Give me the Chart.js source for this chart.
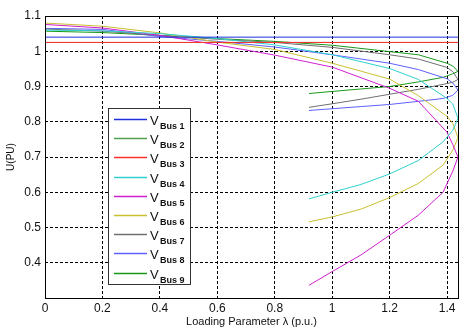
<!DOCTYPE html>
<html>
<head>
<meta charset="utf-8">
<script src="https://cdn.jsdelivr.net/npm/chart.js@4.4.0/dist/chart.umd.min.js"></script>
<style>
  html, body { margin: 0; padding: 0; background: #fff; }
  #wrap { width: 474px; height: 336px; }
</style>
</head>
<body>
<div id="wrap"><canvas id="pvChart"></canvas></div>
<script>
// ── Data ───────────────────────────────────────────────────
const busNames  = ['Bus 1', 'Bus 2', 'Bus 3', 'Bus 4', 'Bus 5', 'Bus 6', 'Bus 7', 'Bus 8', 'Bus 9'];
const busColors = ['#1f2fe0', '#4fa04f', '#ff3030', '#30d0d0', '#d020d0', '#c8c030', '#707070', '#6060ff', '#189818'];

// generator buses hold their voltage over the whole range
const lambdaFlat = [0, 1.438];
const genVolts = [1.04, 1.025, 1.025];

// load buses: upper branch up to the nose, then lower branch back
const lambdaUpper = [0, 0.2, 0.4, 0.6, 0.8, 1.0, 1.2, 1.3, 1.4, 1.42, 1.438];
const lambdaLower = [1.42, 1.386, 1.3, 1.2, 1.1, 1.0, 0.919];

const bus4Upper = [1.060, 1.058, 1.050, 1.036, 1.018, 0.990, 0.951, 0.920, 0.866, 0.850, 0.810];
const bus5Upper = [1.076, 1.066, 1.045, 1.018, 0.989, 0.955, 0.895, 0.858, 0.770, 0.735, 0.700];
const bus6Upper = [1.080, 1.071, 1.052, 1.026, 1.005, 0.966, 0.921, 0.874, 0.815, 0.795, 0.755];
const bus7Upper = [1.063, 1.057, 1.045, 1.034, 1.025, 1.011, 0.990, 0.978, 0.954, 0.942, 0.920];
const bus8Upper = [1.065, 1.062, 1.042, 1.028, 1.012, 0.990, 0.966, 0.948, 0.922, 0.910, 0.890];
const bus9Upper = [1.057, 1.053, 1.045, 1.036, 1.028, 1.017, 0.999, 0.990, 0.966, 0.958, 0.943];

const bus4Lower = [0.776, 0.743, 0.690, 0.652, 0.622, 0.600, 0.581];
const bus5Lower = [0.660, 0.600, 0.535, 0.478, 0.422, 0.375, 0.336];
const bus6Lower = [0.720, 0.677, 0.625, 0.585, 0.552, 0.530, 0.516];
const bus7Lower = [0.912, 0.906, 0.892, 0.878, 0.864, 0.851, 0.841];
const bus8Lower = [0.875, 0.866, 0.858, 0.849, 0.843, 0.837, 0.832];
const bus9Lower = [0.936, 0.926, 0.913, 0.900, 0.893, 0.886, 0.880];

const xTicks = [0, 0.2, 0.4, 0.6, 0.8, 1.0, 1.2, 1.4];
const yTicks = [0.4, 0.5, 0.6, 0.7, 0.8, 0.9, 1.0, 1.1];

// ── Build series ───────────────────────────────────────────
function pairs(xs, ys) {
  return xs.map((x, i) => ({ x, y: ys[i] }));
}

function noseCurve(upper, lower) {
  return pairs(lambdaUpper, upper).concat(pairs(lambdaLower, lower));
}

const seriesData = [
  pairs(lambdaFlat, [genVolts[0], genVolts[0]]),
  pairs(lambdaFlat, [genVolts[1], genVolts[1]]),
  pairs(lambdaFlat, [genVolts[2], genVolts[2]]),
  noseCurve(bus4Upper, bus4Lower),
  noseCurve(bus5Upper, bus5Lower),
  noseCurve(bus6Upper, bus6Lower),
  noseCurve(bus7Upper, bus7Lower),
  noseCurve(bus8Upper, bus8Lower),
  noseCurve(bus9Upper, bus9Lower),
];

const FONT = 'Arial, "Liberation Sans", sans-serif';

// frame round the plot area + the boxed legend with subscripts
const framePlugin = {
  id: 'frameAndLegend',
  afterDraw(chart) {
    const { ctx, chartArea: a } = chart;
    ctx.save();
    ctx.setLineDash([]);
    ctx.strokeStyle = '#000';
    ctx.lineWidth = 1;
    ctx.strokeRect(Math.round(a.left) + 0.5, Math.round(a.top) + 0.5,
                   Math.round(a.right - a.left), Math.round(a.bottom - a.top));

    // legend box
    const bx = a.left + 63, by = a.top + 92, bw = 82, bh = 176;
    ctx.fillStyle = '#fff';
    ctx.fillRect(bx, by, bw, bh);
    ctx.strokeStyle = '#333';
    ctx.strokeRect(bx + 0.5, by + 0.5, bw, bh);

    busNames.forEach((name, i) => {
      const y = Math.round(by + 11 + i * 19.2) + 0.5;
      ctx.strokeStyle = busColors[i];
      ctx.lineWidth = 1.5;
      ctx.beginPath();
      ctx.moveTo(bx + 6, y);
      ctx.lineTo(bx + 39, y);
      ctx.stroke();

      ctx.fillStyle = '#111';
      ctx.textBaseline = 'alphabetic';
      ctx.textAlign = 'left';
      ctx.font = '13px ' + FONT;
      ctx.fillText('V', bx + 42, y + 5);
      ctx.font = 'bold 9px ' + FONT;
      ctx.fillText(name, bx + 52, y + 9);
    });
    ctx.restore();
  },
};

new Chart(document.getElementById('pvChart'), {
  type: 'scatter',
  data: {
    datasets: seriesData.map((d, i) => ({
      label: 'V ' + busNames[i],
      data: d,
      showLine: true,
      borderColor: busColors[i],
      backgroundColor: busColors[i],
      borderWidth: 1,
      pointRadius: 0,
      tension: 0,
      // keep the bus 3 line above bus 2 where they coincide
      order: i === 2 ? -1 : i,
    })),
  },
  options: {
    responsive: true,
    maintainAspectRatio: false,
    animation: false,
    layout: { padding: { left: 0, top: 16, right: 16, bottom: 0 } },
    plugins: {
      legend: { display: false },
      tooltip: { enabled: false },
    },
    scales: {
      x: {
        type: 'linear',
        min: 0,
        max: 1.438,
        afterBuildTicks: s => { s.ticks = xTicks.map(v => ({ value: v })); },
        afterFit: s => { s.height = 38; },
        grid: { color: '#000', lineWidth: 1, drawTicks: false },
        border: { display: false, dash: [3, 2] },
        ticks: {
          color: '#111',
          padding: 3,
          maxRotation: 0,
          font: { family: FONT, size: 12 },
          callback: v => String(+v.toFixed(1)),
        },
        title: {
          display: true,
          text: 'Loading Parameter \u03bb (p.u.)',
          color: '#111',
          font: { family: FONT, size: 11 },
          padding: { top: 0, bottom: 7 },
        },
      },
      y: {
        type: 'linear',
        min: 0.3,
        max: 1.1,
        afterBuildTicks: s => { s.ticks = yTicks.map(v => ({ value: v })); },
        afterFit: s => { s.width = 45; },
        grid: { color: '#000', lineWidth: 1, drawTicks: false },
        border: { display: false, dash: [3, 2] },
        ticks: {
          color: '#111',
          padding: 4,
          font: { family: FONT, size: 12 },
          callback: v => String(+v.toFixed(1)),
        },
        title: {
          display: true,
          text: 'U(PU)',
          color: '#111',
          font: { family: FONT, size: 10 },
          padding: { top: 5, bottom: 0 },
        },
      },
    },
  },
  plugins: [framePlugin],
});
</script>
</body>
</html>
